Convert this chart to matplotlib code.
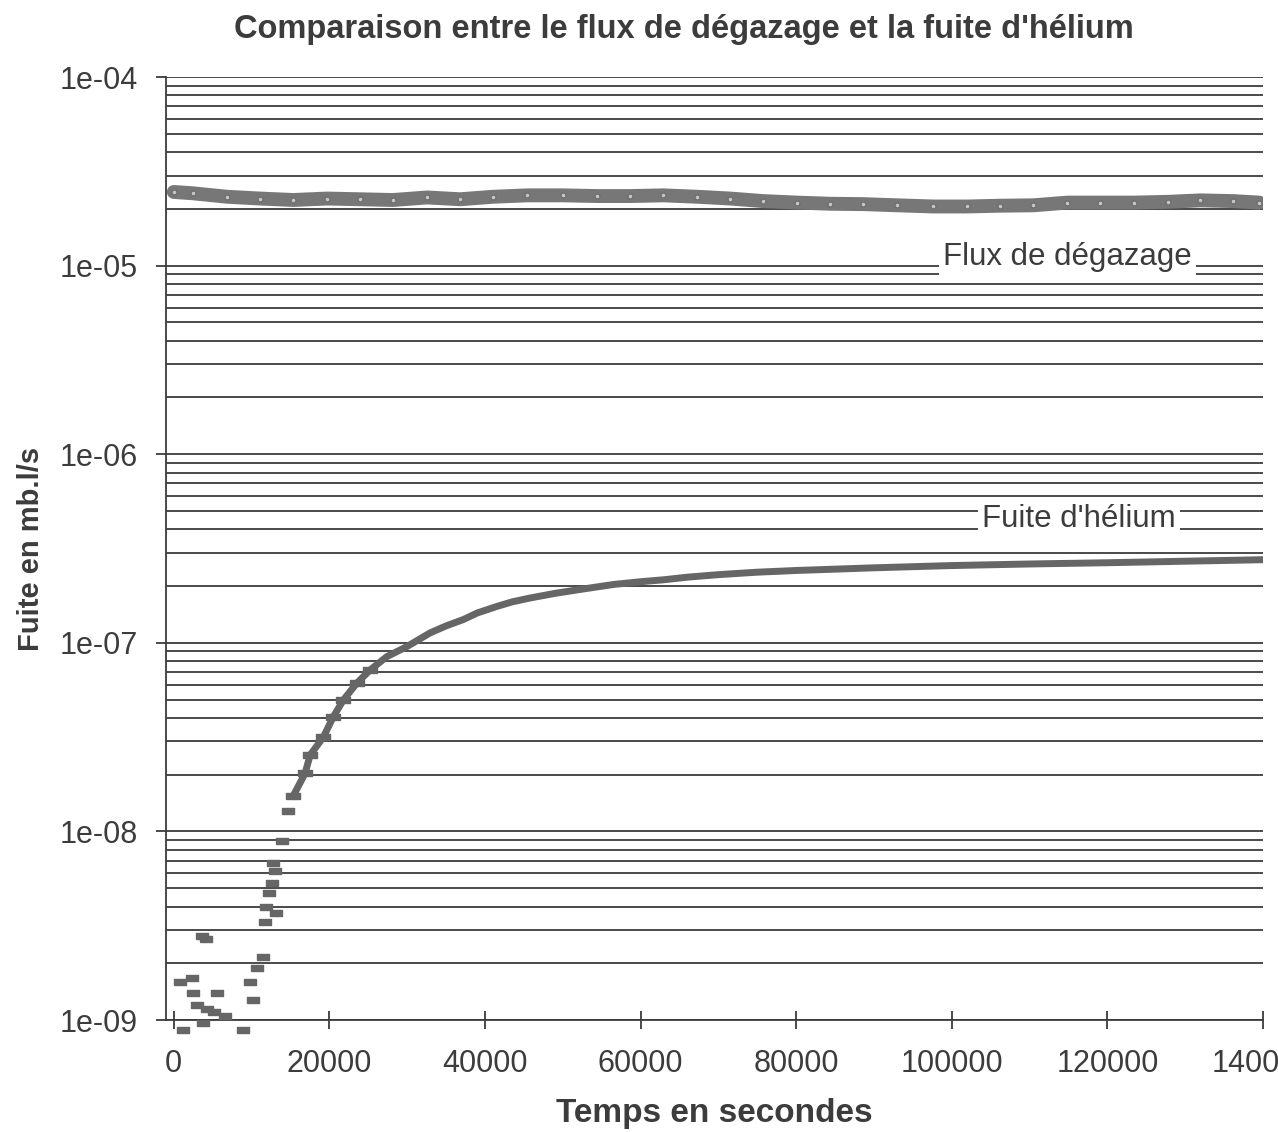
import numpy as np
import matplotlib
matplotlib.use("Agg")
from matplotlib import pyplot as plt
from matplotlib.ticker import FixedLocator, LogLocator, FuncFormatter, NullFormatter

plt.rcParams['font.family'] = ['Liberation Sans', 'DejaVu Sans']

# degassing flux (mb.l/s)
degas_t = [0, 2470, 6840, 11090, 15330, 19700, 23950, 28190, 32560, 36810,
           41050, 45430, 50050, 54420, 58660, 62910, 67280, 71520, 75760, 80140,
           84380, 88630, 93000, 97630, 102000, 106250, 110490, 114860, 119100,
           123350, 127720, 131960, 136200, 139500]
degas_v = [2.46e-5, 2.42e-5, 2.32e-5, 2.27e-5, 2.23e-5, 2.27e-5, 2.25e-5, 2.23e-5, 2.30e-5, 2.25e-5,
           2.32e-5, 2.36e-5, 2.36e-5, 2.34e-5, 2.34e-5, 2.36e-5, 2.32e-5, 2.27e-5, 2.20e-5, 2.16e-5,
           2.13e-5, 2.12e-5, 2.09e-5, 2.06e-5, 2.06e-5, 2.08e-5, 2.09e-5, 2.16e-5, 2.16e-5,
           2.16e-5, 2.18e-5, 2.22e-5, 2.20e-5, 2.16e-5]

# helium leak, noisy start (near detection limit)
he_noise_t = [800, 1180, 2340, 2470, 2980, 3600, 3760, 4100, 4300, 5200, 5560, 6580,
              8900, 9800, 10190, 10700, 11470, 11730, 11900, 12240, 12630, 12760,
              13020, 13100, 13920, 14690]
he_noise_v = [1.59e-9, 0.89e-9, 1.67e-9, 1.39e-9, 1.2e-9, 2.8e-9, 0.96e-9, 2.7e-9, 1.15e-9, 1.1e-9, 1.39e-9, 1.05e-9,
              0.89e-9, 1.59e-9, 1.28e-9, 1.89e-9, 2.16e-9, 3.3e-9, 4.0e-9, 4.7e-9, 5.3e-9, 6.84e-9,
              6.2e-9, 3.7e-9, 8.85e-9, 1.28e-8]

# helium leak, rising part
he_t = [15370, 16870, 17520, 19230, 20510, 21800, 23520, 25230, 27380, 29950,
        32950, 35000, 37230, 39000, 41520, 43500, 45810, 49000, 52240, 56520,
        60000, 62950, 66000, 70000, 75000, 80000, 90000, 100000, 110000, 120000,
        130000, 140000]
he_v = [1.55e-8, 2.03e-8, 2.54e-8, 3.17e-8, 4.06e-8, 4.98e-8, 6.11e-8, 7.18e-8, 8.45e-8, 9.55e-8,
        1.13e-7, 1.23e-7, 1.33e-7, 1.44e-7, 1.56e-7, 1.65e-7, 1.73e-7, 1.83e-7, 1.92e-7, 2.04e-7,
        2.11e-7, 2.16e-7, 2.23e-7, 2.30e-7, 2.37e-7, 2.42e-7, 2.50e-7, 2.57e-7, 2.62e-7, 2.66e-7,
        2.71e-7, 2.76e-7]

x_ticks = [0, 20000, 40000, 60000, 80000, 100000, 120000, 140000]
y_ticks = [1e-9, 1e-8, 1e-7, 1e-6, 1e-5, 1e-4]

ink = '#3c3c3c'
mark = '#666666'

fig = plt.figure(figsize=(12.78, 11.32), dpi=100)
ax = fig.add_axes([0.1299, 0.0989, 0.8584, 0.8330])

ax.set_yscale('log')
ax.set_xlim(-1000, 140000)
ax.set_ylim(1e-9, 1e-4)

# horizontal grid only, major + minor
ax.yaxis.set_major_locator(FixedLocator(y_ticks))
ax.yaxis.set_minor_locator(LogLocator(base=10, subs=np.arange(2, 10)))
ax.yaxis.set_minor_formatter(NullFormatter())
ax.yaxis.set_major_formatter(FuncFormatter(lambda v, p: f"{v:.0e}"))
ax.grid(True, which='both', axis='y', color=ink, lw=1.3, zorder=1)
ax.set_axisbelow(True)

ax.xaxis.set_major_locator(FixedLocator(x_ticks))
ax.xaxis.set_major_formatter(FuncFormatter(lambda v, p: f"{int(v)}"))

# degassing band
ax.plot(degas_t, degas_v, color='#777777', lw=10, solid_capstyle='round', zorder=3)
ax.plot(degas_t, degas_v, ls='none', marker='o', ms=3.5, mfc='#c4c4c4', mec='#6a6a6a',
        mew=0.8, zorder=4)

# helium leak
rect = [(-1, -0.5), (1, -0.5), (1, 0.5), (-1, 0.5), (-1, -0.5)]
ax.plot(he_noise_t, he_noise_v, ls='none', marker=rect, ms=9, color=mark,
        clip_on=False, zorder=4)
ax.plot(he_t, he_v, color=mark, lw=5, zorder=4)
ax.plot(he_t[:8], he_v[:8], ls='none', marker=rect, ms=10, color=mark, zorder=4)

# in-plot labels
box = dict(facecolor='white', edgecolor='none', pad=3)
ax.text(114900, 1.11e-5, "Flux de dégazage", fontsize=22.5, color=ink,
        ha='center', va='center', bbox=box, zorder=5)
ax.text(116300, 4.55e-7, "Fuite d'hélium", fontsize=22.5, color=ink,
        ha='center', va='center', bbox=box, zorder=5)

for s in ['top', 'right']:
    ax.spines[s].set_visible(False)
for s in ['left', 'bottom']:
    ax.spines[s].set_color(ink)
    ax.spines[s].set_linewidth(1.3)

ax.tick_params(axis='y', which='major', direction='out', length=7, width=1.3,
               color=ink, labelsize=22, labelcolor=ink, pad=13)
ax.tick_params(axis='y', which='minor', length=0)
ax.tick_params(axis='x', which='major', direction='inout', length=13, width=1.3,
               color=ink, labelsize=22, labelcolor=ink, pad=14)

ax.set_xlabel("Temps en secondes", fontsize=24, fontweight='bold', color=ink, labelpad=14)
ax.set_ylabel("Fuite en mb.l/s", fontsize=21, fontweight='bold', color=ink, labelpad=11)
fig.text(0.535, 0.974, "Comparaison entre le flux de dégazage et la fuite d'hélium",
         fontsize=23.5, fontweight='bold', color=ink, ha='center', va='center')

fig.savefig("out.png", dpi=100)
